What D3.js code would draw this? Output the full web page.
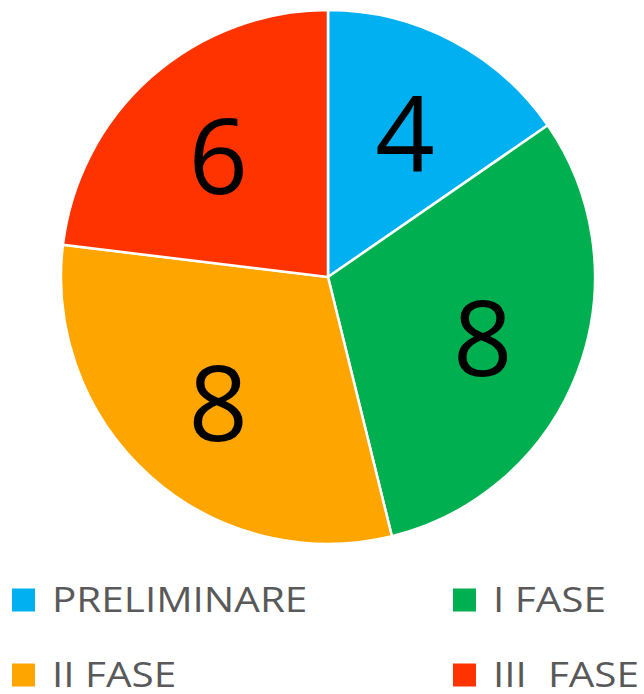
<!DOCTYPE html>
<html>
<head>
<meta charset="utf-8">
<script src="https://cdn.jsdelivr.net/npm/d3@7"></script>
<style>
  body { margin: 0; background: #fff; }
  svg { display: block; }
</style>
</head>
<body>
<div id="chart"></div>
<script>
// phases and counts
const phases = ["PRELIMINARE", "I FASE", "II FASE", "III  FASE"];
const counts = [4, 8, 8, 6];
const colors = ["#00B0F0", "#00B050", "#FFA500", "#FF3300"];

const width = 644;
const height = 694;

// pie geometry
const cx = 328, cy = 277;
const radius = 267;

const svg = d3.select("#chart")
  .append("svg")
  .attr("width", width)
  .attr("height", height);

const data = phases.map((p, i) => ({ phase: p, value: counts[i], color: colors[i] }));

const pie = d3.pie()
  .sort(null)
  .value(d => d.value);

const arc = d3.arc()
  .innerRadius(0)
  .outerRadius(radius);

// labels sit a bit past the middle of the radius
const labelArc = d3.arc()
  .innerRadius(radius * 0.62)
  .outerRadius(radius * 0.62);

const chart = svg.append("g")
  .attr("transform", `translate(${cx},${cy})`);

const arcs = pie(data);

chart.selectAll("path")
  .data(arcs)
  .join("path")
  .attr("d", arc)
  .attr("fill", d => d.data.color)
  .attr("stroke", "#fff")
  .attr("stroke-width", 2.5)
  .attr("stroke-linejoin", "round");

chart.selectAll("text.value")
  .data(arcs)
  .join("text")
  .attr("class", "value")
  .attr("transform", d => `translate(${labelArc.centroid(d)})`)
  .attr("text-anchor", "middle")
  .attr("dominant-baseline", "central")
  .style("font-family", "'Open Sans', sans-serif")
  .style("font-size", "104px")
  .style("fill", "#000")
  .text(d => d.data.value);

// legend, 2 columns x 2 rows
const legendX = d3.scalePoint().domain([0, 1]).range([12, 453]);
const legendY = d3.scalePoint().domain([0, 1]).range([600, 675]);

const legend = svg.selectAll("g.legend")
  .data(data)
  .join("g")
  .attr("class", "legend")
  .attr("transform", (d, i) => `translate(${legendX(i % 2)},${legendY(Math.floor(i / 2))})`);

legend.append("rect")
  .attr("x", 0)
  .attr("y", -11.5)
  .attr("width", 23)
  .attr("height", 23)
  .attr("fill", d => d.color);

legend.append("text")
  .attr("transform", "translate(40,12) scale(1.19,1)")
  .style("font-family", "'Open Sans', sans-serif")
  .style("font-size", "34px")
  .style("fill", "#595959")
  .style("white-space", "pre")
  .attr("xml:space", "preserve")
  .text(d => d.phase);
</script>
</body>
</html>
